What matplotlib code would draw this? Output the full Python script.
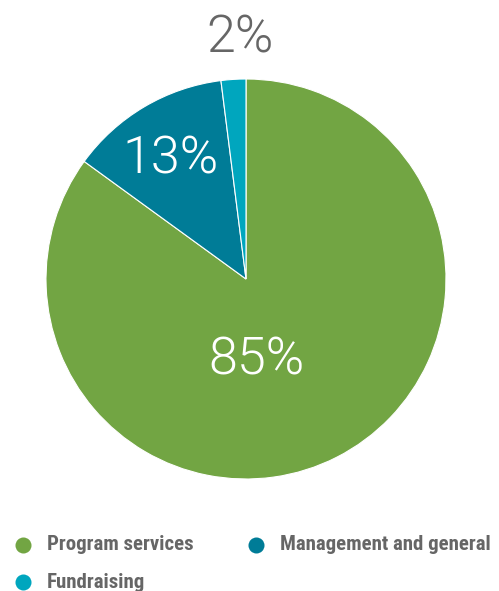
import matplotlib
matplotlib.use("Agg")
import matplotlib.pyplot as plt
import numpy as np

categories = ["Program services", "Management and general", "Fundraising"]
values = [85, 13, 2]
pct_labels = ["85%", "13%", "2%"]
colors = ["#72A543", "#007C97", "#00A6BE"]
label_colors = ["white", "white", "#666666"]
# label placement: (radius, angle in degrees) relative to pie centre
label_pos = [(0.4826, -84.0), (0.649, 125.3), (1.135, 91.5)]

W, H = 499, 591
fig = plt.figure(figsize=(W / 100, H / 100), dpi=100)
fig.patch.set_facecolor("white")

cx, cy, R = 246, 279, 200
ax = fig.add_axes([(cx - R) / W, (H - cy - R) / H, 2 * R / W, 2 * R / H])
wedges, _ = ax.pie(values, colors=colors, startangle=90, counterclock=False,
                   radius=1, wedgeprops=dict(edgecolor="white", linewidth=0.8))
ax.set_xlim(-1, 1)
ax.set_ylim(-1, 1)
ax.set_aspect("equal")
ax.axis("off")

for txt, col, (r, ang) in zip(pct_labels, label_colors, label_pos):
    a = np.deg2rad(ang)
    ax.text(r * np.cos(a), r * np.sin(a), txt, ha="center", va="baseline",
            color=col, fontsize=37.5, family=["Roboto", "DejaVu Sans"],
            fontweight=300, clip_on=False)

# legend
lax = fig.add_axes([0, 0, 1, 1])
lax.set_xlim(0, W)
lax.set_ylim(H, 0)
lax.axis("off")
col_x = [23.5, 256.5]
row_y = [545, 582]
order = [(0, 0), (0, 1), (1, 0)]  # (row, col) per category
for cat, col, (r, c) in zip(categories, colors, order):
    lax.scatter([col_x[c]], [row_y[r]], s=16 ** 2 * 0.52, color=col, linewidths=0)
    lax.text(col_x[c] + 23.5, row_y[r] + 5.5, cat, ha="left", va="baseline",
             color="#666666", fontsize=15.0,
             family=["Roboto Condensed", "Liberation Sans Narrow", "Roboto", "DejaVu Sans"],
             fontweight="bold")

fig.savefig("out.png", dpi=100, facecolor="white")
